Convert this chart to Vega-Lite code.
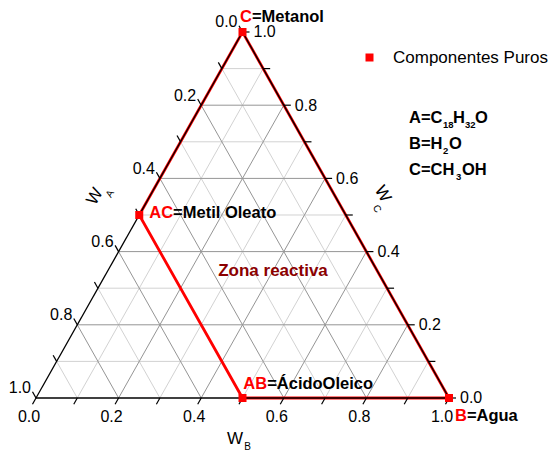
{
  "$schema": "https://vega.github.io/schema/vega-lite/v6.json",
  "width": 557,
  "height": 451,
  "padding": 0,
  "autosize": {"type": "none"},
  "background": "white",
  "config": {"view": {"stroke": null}, "font": "Liberation Sans"},
  "datasets": {
    "escala": [
      {"axis": "A", "v": 0.0}, {"axis": "A", "v": 0.1}, {"axis": "A", "v": 0.2}, {"axis": "A", "v": 0.3}, {"axis": "A", "v": 0.4}, {"axis": "A", "v": 0.5}, {"axis": "A", "v": 0.6}, {"axis": "A", "v": 0.7}, {"axis": "A", "v": 0.8}, {"axis": "A", "v": 0.9}, {"axis": "A", "v": 1.0},
      {"axis": "B", "v": 0.0}, {"axis": "B", "v": 0.1}, {"axis": "B", "v": 0.2}, {"axis": "B", "v": 0.3}, {"axis": "B", "v": 0.4}, {"axis": "B", "v": 0.5}, {"axis": "B", "v": 0.6}, {"axis": "B", "v": 0.7}, {"axis": "B", "v": 0.8}, {"axis": "B", "v": 0.9}, {"axis": "B", "v": 1.0},
      {"axis": "C", "v": 0.0}, {"axis": "C", "v": 0.1}, {"axis": "C", "v": 0.2}, {"axis": "C", "v": 0.3}, {"axis": "C", "v": 0.4}, {"axis": "C", "v": 0.5}, {"axis": "C", "v": 0.6}, {"axis": "C", "v": 0.7}, {"axis": "C", "v": 0.8}, {"axis": "C", "v": 0.9}, {"axis": "C", "v": 1.0}
    ],
    "componentes": [
      {"comp": "C", "B": 0, "C": 1, "grupo": "Componentes Puros"},
      {"comp": "B", "B": 1, "C": 0, "grupo": "Componentes Puros"},
      {"comp": "AC", "B": 0, "C": 0.5, "grupo": "Componentes Puros"},
      {"comp": "AB", "B": 0.5, "C": 0, "grupo": "Componentes Puros"}
    ],
    "zona": [
      {"pt": "AC", "orden": 1, "B": 0, "C": 0.5},
      {"pt": "C", "orden": 2, "B": 0, "C": 1},
      {"pt": "B", "orden": 3, "B": 1, "C": 0},
      {"pt": "AB", "orden": 4, "B": 0.5, "C": 0},
      {"pt": "AC", "orden": 5, "B": 0, "C": 0.5}
    ],
    "formulas": [
      {"k": 0, "fila": 0, "sub": 0, "t": "A=C"},
      {"k": 1, "fila": 0, "sub": 1, "t": "18"},
      {"k": 2, "fila": 0, "sub": 0, "t": "H"},
      {"k": 3, "fila": 0, "sub": 1, "t": "32"},
      {"k": 4, "fila": 0, "sub": 0, "t": "O"},
      {"k": 5, "fila": 1, "sub": 0, "t": "B=H"},
      {"k": 6, "fila": 1, "sub": 1, "t": "2"},
      {"k": 7, "fila": 1, "sub": 0, "t": "O"},
      {"k": 8, "fila": 2, "sub": 0, "t": "C=CH"},
      {"k": 9, "fila": 2, "sub": 1, "t": "3"},
      {"k": 10, "fila": 2, "sub": 0, "t": "OH"}
    ]
  },
  "layer": [
    {
      "data": {"name": "escala"},
      "transform": [
        {"filter": "datum.v > 0 && datum.v < 1 && abs(datum.v*5 - round(datum.v*5)) > 0.001"},
        {"calculate": "datum.axis=='A' ? 1-datum.v : datum.axis=='B' ? datum.v : datum.v/2", "as": "x1"},
        {"calculate": "datum.axis=='C' ? datum.v : 0", "as": "y1"},
        {"calculate": "datum.axis=='A' ? (1-datum.v)/2 : datum.axis=='B' ? (1+datum.v)/2 : 1-datum.v/2", "as": "x2"},
        {"calculate": "datum.axis=='C' ? datum.v : 1-datum.v", "as": "y2"}
      ],
      "mark": {"type": "rule", "color": "#d2d2d2", "strokeWidth": 1},
      "encoding": {
        "x": {"field": "x1", "type": "quantitative", "scale": {"domain": [-0.08717, 1.2615], "nice": false, "zero": false}, "axis": null},
        "y": {"field": "y1", "type": "quantitative", "scale": {"domain": [-0.14481, 1.08743], "nice": false, "zero": false}, "axis": null},
        "x2": {"field": "x2"},
        "y2": {"field": "y2"}
      }
    },
    {
      "data": {"name": "escala"},
      "transform": [
        {"filter": "datum.v > 0 && datum.v < 1 && abs(datum.v*5 - round(datum.v*5)) < 0.001"},
        {"calculate": "datum.axis=='A' ? 1-datum.v : datum.axis=='B' ? datum.v : datum.v/2", "as": "x1"},
        {"calculate": "datum.axis=='C' ? datum.v : 0", "as": "y1"},
        {"calculate": "datum.axis=='A' ? (1-datum.v)/2 : datum.axis=='B' ? (1+datum.v)/2 : 1-datum.v/2", "as": "x2"},
        {"calculate": "datum.axis=='C' ? datum.v : 1-datum.v", "as": "y2"}
      ],
      "mark": {"type": "rule", "color": "#959595", "strokeWidth": 1},
      "encoding": {
        "x": {"field": "x1", "type": "quantitative", "scale": {"domain": [-0.08717, 1.2615], "nice": false, "zero": false}, "axis": null},
        "y": {"field": "y1", "type": "quantitative", "scale": {"domain": [-0.14481, 1.08743], "nice": false, "zero": false}, "axis": null},
        "x2": {"field": "x2"},
        "y2": {"field": "y2"}
      }
    },
    {
      "data": {"name": "zona"},
      "transform": [{"calculate": "datum.B + datum.C/2", "as": "px"}],
      "mark": {"type": "line", "color": "#ff0000", "strokeWidth": 2.8},
      "encoding": {
        "x": {"field": "px", "type": "quantitative", "scale": {"domain": [-0.08717, 1.2615], "nice": false, "zero": false}, "axis": null},
        "y": {"field": "C", "type": "quantitative", "scale": {"domain": [-0.14481, 1.08743], "nice": false, "zero": false}, "axis": null},
        "order": {"field": "orden", "type": "quantitative"}
      }
    },
    {
      "data": {"name": "escala"},
      "transform": [
        {"filter": "datum.v == 0"},
        {"calculate": "datum.axis=='A' ? 1-datum.v : datum.axis=='B' ? datum.v : datum.v/2", "as": "x1"},
        {"calculate": "datum.axis=='C' ? datum.v : 0", "as": "y1"},
        {"calculate": "datum.axis=='A' ? (1-datum.v)/2 : datum.axis=='B' ? (1+datum.v)/2 : 1-datum.v/2", "as": "x2"},
        {"calculate": "datum.axis=='C' ? datum.v : 1-datum.v", "as": "y2"}
      ],
      "mark": {"type": "rule", "color": "#000000", "strokeWidth": 1.3},
      "encoding": {
        "x": {"field": "x1", "type": "quantitative", "scale": {"domain": [-0.08717, 1.2615], "nice": false, "zero": false}, "axis": null},
        "y": {"field": "y1", "type": "quantitative", "scale": {"domain": [-0.14481, 1.08743], "nice": false, "zero": false}, "axis": null},
        "x2": {"field": "x2"},
        "y2": {"field": "y2"}
      }
    },
    {
      "data": {"name": "escala"},
      "transform": [
        {"calculate": "datum.axis=='A' ? (1-datum.v)/2 : datum.axis=='B' ? datum.v : 1-datum.v/2", "as": "tx"},
        {"calculate": "datum.axis=='A' ? 1-datum.v : datum.axis=='B' ? 0 : datum.v", "as": "ty"},
        {"calculate": "datum.axis=='C' ? datum.tx+0.017 : datum.tx-0.0085", "as": "ex"},
        {"calculate": "datum.axis=='A' ? datum.ty+0.017 : datum.axis=='B' ? datum.ty-0.017 : datum.ty", "as": "ey"}
      ],
      "mark": {"type": "rule", "color": "#000000", "strokeWidth": 1.2},
      "encoding": {
        "x": {"field": "tx", "type": "quantitative", "scale": {"domain": [-0.08717, 1.2615], "nice": false, "zero": false}, "axis": null},
        "y": {"field": "ty", "type": "quantitative", "scale": {"domain": [-0.14481, 1.08743], "nice": false, "zero": false}, "axis": null},
        "x2": {"field": "ex"},
        "y2": {"field": "ey"}
      }
    },
    {
      "data": {"name": "componentes"},
      "transform": [{"calculate": "datum.B + datum.C/2", "as": "px"}],
      "mark": {"type": "point", "shape": "square", "filled": true, "size": 64, "opacity": 1},
      "encoding": {
        "x": {"field": "px", "type": "quantitative", "scale": {"domain": [-0.08717, 1.2615], "nice": false, "zero": false}, "axis": null},
        "y": {"field": "C", "type": "quantitative", "scale": {"domain": [-0.14481, 1.08743], "nice": false, "zero": false}, "axis": null},
        "color": {"field": "grupo", "type": "nominal", "scale": {"range": ["#ff0000"]},
          "legend": {"title": null, "orient": "none", "legendX": 361, "legendY": 49, "symbolType": "square", "symbolSize": 64, "symbolStrokeWidth": 0, "symbolOpacity": 1, "labelFont": "Liberation Sans", "labelFontSize": 17, "labelColor": "#000000", "labelOffset": 15, "padding": 0}}
      }
    },
    {
      "data": {"name": "escala"},
      "transform": [
        {"filter": "datum.axis=='A' && abs(datum.v*5 - round(datum.v*5)) < 0.001"},
        {"calculate": "(1-datum.v)/2", "as": "tx"},
        {"calculate": "1-datum.v", "as": "ty"}
      ],
      "mark": {"type": "text", "font": "Liberation Sans", "fontSize": 16, "align": "right", "baseline": "middle", "dx": -5, "dy": -9.5, "color": "#000000"},
      "encoding": {
        "x": {"field": "tx", "type": "quantitative", "scale": {"domain": [-0.08717, 1.2615], "nice": false, "zero": false}, "axis": null},
        "y": {"field": "ty", "type": "quantitative", "scale": {"domain": [-0.14481, 1.08743], "nice": false, "zero": false}, "axis": null},
        "text": {"field": "v", "type": "quantitative", "format": ".1f"}
      }
    },
    {
      "data": {"name": "escala"},
      "transform": [
        {"filter": "datum.axis=='B' && abs(datum.v*5 - round(datum.v*5)) < 0.001"}
      ],
      "mark": {"type": "text", "font": "Liberation Sans", "fontSize": 16, "align": "center", "baseline": "middle", "dx": -7, "dy": 19, "color": "#000000"},
      "encoding": {
        "x": {"field": "v", "type": "quantitative", "scale": {"domain": [-0.08717, 1.2615], "nice": false, "zero": false}, "axis": null},
        "y": {"datum": 0, "type": "quantitative", "scale": {"domain": [-0.14481, 1.08743], "nice": false, "zero": false}, "axis": null},
        "text": {"field": "v", "type": "quantitative", "format": ".1f"}
      }
    },
    {
      "data": {"name": "escala"},
      "transform": [
        {"filter": "datum.axis=='C' && abs(datum.v*5 - round(datum.v*5)) < 0.001"},
        {"calculate": "1-datum.v/2", "as": "tx"}
      ],
      "mark": {"type": "text", "font": "Liberation Sans", "fontSize": 16, "align": "left", "baseline": "middle", "dx": 11, "dy": 0.5, "color": "#000000"},
      "encoding": {
        "x": {"field": "tx", "type": "quantitative", "scale": {"domain": [-0.08717, 1.2615], "nice": false, "zero": false}, "axis": null},
        "y": {"field": "v", "type": "quantitative", "scale": {"domain": [-0.14481, 1.08743], "nice": false, "zero": false}, "axis": null},
        "text": {"field": "v", "type": "quantitative", "format": ".1f"}
      }
    },
    {
      "data": {"values": [{"t": "W"}]},
      "mark": {"type": "text", "font": "Liberation Sans", "fontSize": 17, "align": "center", "baseline": "middle", "angle": 300, "color": "#000000"},
      "encoding": {
        "x": {"datum": 0.1429, "type": "quantitative", "scale": {"domain": [-0.08717, 1.2615], "nice": false, "zero": false}, "axis": null},
        "y": {"datum": 0.5505, "type": "quantitative", "scale": {"domain": [-0.14481, 1.08743], "nice": false, "zero": false}, "axis": null},
        "text": {"field": "t"}
      }
    },
    {
      "data": {"values": [{"t": "A"}]},
      "mark": {"type": "text", "font": "Liberation Sans", "fontSize": 10, "align": "center", "baseline": "middle", "angle": 300, "color": "#000000"},
      "encoding": {
        "x": {"datum": 0.1792, "type": "quantitative", "scale": {"domain": [-0.08717, 1.2615], "nice": false, "zero": false}, "axis": null},
        "y": {"datum": 0.5574, "type": "quantitative", "scale": {"domain": [-0.14481, 1.08743], "nice": false, "zero": false}, "axis": null},
        "text": {"field": "t"}
      }
    },
    {
      "data": {"values": [{"t": "W"}]},
      "mark": {"type": "text", "font": "Liberation Sans", "fontSize": 17, "align": "center", "baseline": "middle", "angle": 60, "color": "#000000"},
      "encoding": {
        "x": {"datum": 0.839, "type": "quantitative", "scale": {"domain": [-0.08717, 1.2615], "nice": false, "zero": false}, "axis": null},
        "y": {"datum": 0.5574, "type": "quantitative", "scale": {"domain": [-0.14481, 1.08743], "nice": false, "zero": false}, "axis": null},
        "text": {"field": "t"}
      }
    },
    {
      "data": {"values": [{"t": "C"}]},
      "mark": {"type": "text", "font": "Liberation Sans", "fontSize": 10, "align": "center", "baseline": "middle", "angle": 60, "color": "#000000"},
      "encoding": {
        "x": {"datum": 0.8257, "type": "quantitative", "scale": {"domain": [-0.08717, 1.2615], "nice": false, "zero": false}, "axis": null},
        "y": {"datum": 0.5164, "type": "quantitative", "scale": {"domain": [-0.14481, 1.08743], "nice": false, "zero": false}, "axis": null},
        "text": {"field": "t"}
      }
    },
    {
      "data": {"values": [{"t": "W"}]},
      "mark": {"type": "text", "font": "Liberation Sans", "fontSize": 17, "align": "center", "baseline": "middle", "color": "#000000"},
      "encoding": {
        "x": {"datum": 0.4818, "type": "quantitative", "scale": {"domain": [-0.08717, 1.2615], "nice": false, "zero": false}, "axis": null},
        "y": {"datum": -0.112, "type": "quantitative", "scale": {"domain": [-0.14481, 1.08743], "nice": false, "zero": false}, "axis": null},
        "text": {"field": "t"}
      }
    },
    {
      "data": {"values": [{"t": "B"}]},
      "mark": {"type": "text", "font": "Liberation Sans", "fontSize": 10, "align": "center", "baseline": "middle", "color": "#000000"},
      "encoding": {
        "x": {"datum": 0.5121, "type": "quantitative", "scale": {"domain": [-0.08717, 1.2615], "nice": false, "zero": false}, "axis": null},
        "y": {"datum": -0.1345, "type": "quantitative", "scale": {"domain": [-0.14481, 1.08743], "nice": false, "zero": false}, "axis": null},
        "text": {"field": "t"}
      }
    },
    {
      "data": {"values": [{"t": "=Metanol", "r": "C"}, {"t": "=Metil Oleato", "r": "AC"}, {"t": "=ÁcidoOleico", "r": "AB"}, {"t": "=Agua", "r": "B"}]},
      "transform": [
        {"calculate": "datum.r=='C' ? 0.494 : datum.r=='AC' ? 0.2743 : datum.r=='AB' ? 0.502 : 1.0145", "as": "lx"},
        {"calculate": "datum.r=='C' ? 1.0405 : datum.r=='AC' ? 0.5063 : datum.r=='AB' ? 0.0383 : -0.048", "as": "ly"},
        {"calculate": "datum.lx + length(datum.r) * 0.722 * 16.5 / 413", "as": "lx2"}
      ],
      "layer": [
        {
          "mark": {"type": "text", "font": "Liberation Sans", "fontSize": 16.5, "fontWeight": "bold", "align": "left", "baseline": "middle", "color": "#ff0000"},
          "encoding": {
            "x": {"field": "lx", "type": "quantitative", "scale": {"domain": [-0.08717, 1.2615], "nice": false, "zero": false}, "axis": null},
            "y": {"field": "ly", "type": "quantitative", "scale": {"domain": [-0.14481, 1.08743], "nice": false, "zero": false}, "axis": null},
            "text": {"field": "r"}
          }
        },
        {
          "mark": {"type": "text", "font": "Liberation Sans", "fontSize": 16.5, "fontWeight": "bold", "align": "left", "baseline": "middle", "color": "#000000"},
          "encoding": {
            "x": {"field": "lx2", "type": "quantitative", "scale": {"domain": [-0.08717, 1.2615], "nice": false, "zero": false}, "axis": null},
            "y": {"field": "ly", "type": "quantitative", "scale": {"domain": [-0.14481, 1.08743], "nice": false, "zero": false}, "axis": null},
            "text": {"field": "t"}
          }
        }
      ]
    },
    {
      "data": {"values": [{"t": "Zona reactiva"}]},
      "mark": {"type": "text", "font": "Liberation Sans", "fontSize": 17, "fontWeight": "bold", "align": "center", "baseline": "middle", "color": "#8b0000"},
      "encoding": {
        "x": {"datum": 0.5738, "type": "quantitative", "scale": {"domain": [-0.08717, 1.2615], "nice": false, "zero": false}, "axis": null},
        "y": {"datum": 0.347, "type": "quantitative", "scale": {"domain": [-0.14481, 1.08743], "nice": false, "zero": false}, "axis": null},
        "text": {"field": "t"}
      }
    },
    {
      "data": {"name": "formulas"},
      "transform": [
        {"calculate": "0.9031 + [0, 34, 44, 56, 66, 0, 34, 40, 0, 47, 53][datum.k] / 413", "as": "fx"},
        {"calculate": "[0.765, 0.694, 0.6216][datum.fila]", "as": "fy"}
      ],
      "layer": [
        {
          "transform": [{"filter": "datum.sub == 0"}],
          "mark": {"type": "text", "font": "Liberation Sans", "fontSize": 16.5, "fontWeight": "bold", "align": "left", "baseline": "middle", "color": "#000000"},
          "encoding": {
            "x": {"field": "fx", "type": "quantitative", "scale": {"domain": [-0.08717, 1.2615], "nice": false, "zero": false}, "axis": null},
            "y": {"field": "fy", "type": "quantitative", "scale": {"domain": [-0.14481, 1.08743], "nice": false, "zero": false}, "axis": null},
            "text": {"field": "t"}
          }
        },
        {
          "transform": [{"filter": "datum.sub == 1"}],
          "mark": {"type": "text", "font": "Liberation Sans", "fontSize": 9.5, "fontWeight": "bold", "align": "left", "baseline": "middle", "dy": 7, "color": "#000000"},
          "encoding": {
            "x": {"field": "fx", "type": "quantitative", "scale": {"domain": [-0.08717, 1.2615], "nice": false, "zero": false}, "axis": null},
            "y": {"field": "fy", "type": "quantitative", "scale": {"domain": [-0.14481, 1.08743], "nice": false, "zero": false}, "axis": null},
            "text": {"field": "t"}
          }
        }
      ]
    }
  ]
}
